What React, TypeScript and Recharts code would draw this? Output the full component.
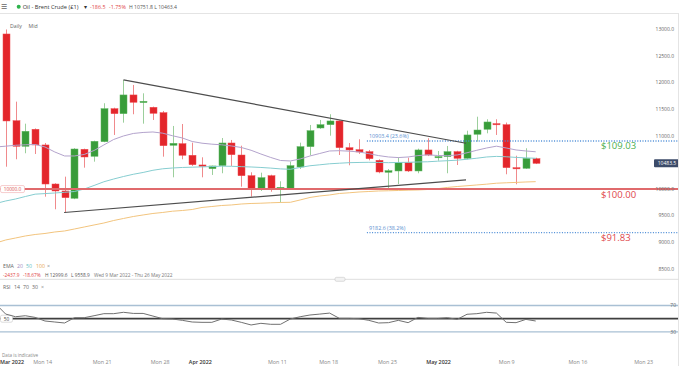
import React from "react";
import { ComposedChart, Bar, Line, XAxis, YAxis, ReferenceLine } from "recharts";

// ---------- data (candle index 0 = Wed 9 Mar 2022) ----------
const opens = [12915, 11285, 10804, 11124, 10829, 10095, 9964, 9827, 10748, 10616, 10891, 11511, 11417, 11769, 11625, 11537, 11436, 10823, 10853, 10635, 10453, 10383, 10440, 10866, 10640, 10251, 10001, 10251, 10007, 10010, 10415, 10797, 11148, 11210, 11280, 10778, 10740, 10703, 10541, 10315, 10340, 10496, 10340, 10735, 10590, 10610, 10703, 10578, 11030, 11124, 11230, 11210, 10402, 10390, 10571];
const highs = [13000, 11643, 11229, 11140, 10866, 10110, 10233, 10770, 10760, 10910, 11613, 11530, 12051, 11957, 11800, 11550, 11468, 11186, 11223, 10872, 10597, 10440, 10960, 10923, 10815, 10315, 10308, 10270, 10146, 10515, 10872, 11205, 11299, 11406, 11290, 10866, 10936, 10735, 10560, 10377, 10597, 10590, 10760, 10955, 10716, 10810, 10720, 11097, 11360, 11312, 11312, 11250, 10627, 10767, 10590];
const lows = [10420, 10560, 10673, 10659, 9857, 9620, 9559, 9810, 10402, 10515, 10880, 11017, 11248, 11406, 11229, 11299, 10609, 10221, 10560, 10434, 10221, 10265, 10297, 10434, 10045, 9857, 9964, 9950, 9744, 9990, 10377, 10635, 11130, 11003, 10640, 10447, 10660, 10540, 10297, 10001, 10095, 10320, 10297, 10620, 10533, 10297, 10452, 10560, 10891, 11048, 11017, 10278, 10090, 10377, 10470];
const closes = [11280, 10804, 11086, 10829, 10095, 9964, 9838, 10753, 10603, 10898, 11511, 11417, 11769, 11631, 11650, 11424, 10815, 10860, 10635, 10458, 10428, 10434, 10866, 10646, 10251, 10001, 10214, 10014, 10033, 10440, 10797, 11097, 11210, 11280, 10778, 10735, 10697, 10571, 10321, 10345, 10496, 10340, 10735, 10640, 10610, 10703, 10578, 11017, 11110, 11261, 11210, 10402, 10383, 10578, 10483.5];

// indicator series start one bar earlier (index -1)
const ema20 = [10791, 10806, 10823, 10832, 10838, 10791, 10697, 10622, 10622, 10650, 10725, 10829, 10932, 10998, 11045, 11064, 11073, 11050, 11002, 10960, 10894, 10862, 10844, 10832, 10810, 10782, 10729, 10659, 10594, 10537, 10528, 10565, 10622, 10669, 10716, 10721, 10712, 10697, 10665, 10629, 10603, 10592, 10603, 10629, 10644, 10631, 10627, 10641, 10682, 10729, 10772, 10806, 10772, 10735, 10716, 10701];
const ema50 = [9729, 9776, 9813, 9860, 9904, 9915, 9926, 9939, 9954, 10001, 10067, 10137, 10189, 10236, 10278, 10312, 10353, 10381, 10396, 10406, 10411, 10417, 10423, 10430, 10428, 10421, 10415, 10406, 10394, 10379, 10372, 10406, 10438, 10456, 10475, 10486, 10496, 10500, 10503, 10500, 10496, 10500, 10503, 10509, 10513, 10524, 10533, 10543, 10560, 10580, 10603, 10614, 10607, 10595, 10586, 10579];
const ema100 = [8986, 9043, 9080, 9118, 9146, 9165, 9193, 9212, 9249, 9287, 9325, 9362, 9409, 9447, 9484, 9513, 9541, 9560, 9584, 9597, 9616, 9654, 9672, 9691, 9701, 9719, 9729, 9734, 9742, 9748, 9751, 9795, 9842, 9870, 9889, 9917, 9930, 9945, 9954, 9964, 9968, 9973, 9979, 9983, 9992, 10007, 10030, 10048, 10062, 10077, 10092, 10110, 10118, 10125, 10133, 10139];
const rsi14 = [72, 57, 53, 54.5, 52, 46.5, 45, 43.5, 51.5, 51.5, 54.5, 57.6, 57.6, 59.7, 58, 58, 54, 50, 49.5, 47.5, 45, 44.5, 44.5, 49.5, 48, 44.5, 40.5, 43, 41.5, 41.5, 49.5, 53, 55.6, 57, 58.5, 50.5, 50.5, 50, 47.5, 43.5, 44, 47.5, 44, 52, 50.5, 50.5, 51.5, 49, 56.7, 57.6, 59.7, 58.5, 44.5, 44, 49, 46.5];

const upperTrend = [{ i: 12, v: 12051 }, { i: 46.9, v: 10861 }];
const lowerTrend = [{ i: 5.95, v: 9559 }, { i: 46.9, v: 10171 }];

const fibStart = 36.8;
const fibLevels = [
  { value: 10903.4, label: "10903.4 (23.6%)" },
  { value: 9182.6, label: "9182.6 (38.2%)" },
];
const supportLevel = 10000;
const priceNotes = [
  { value: 10903.4, text: "$109.03", color: "#4caf50" },
  { value: 10000, text: "$100.00", color: "#e0474c" },
  { value: 9182.6, text: "$91.83", color: "#e0474c" },
];
const lastPrice = 10483.5;

const yTicks = [8500, 9000, 9500, 10000, 11000, 11500, 12000, 12500, 13000];
const xTickPos = [0.64, 3.76, 9.83, 15.74, 19.83, 27.68, 32.9, 38.9, 44.1, 51.05, 58.3, 65.0];
const xTickLabels = ["Mar 2022", "Mon 14", "Mon 21", "Mon 28", "Apr 2022", "Mon 11", "Mon 18", "Mon 25", "May 2022", "Mon 9", "Mon 16", "Mon 23"];

const X_DOMAIN: [number, number] = [-0.582, 68.6];

const rows = ema20.map((_, k) => {
  const i = k - 1;
  const r: any = { i, ema20: ema20[k], ema50: ema50[k], ema100: ema100[k], rsi: rsi14[k] };
  if (i >= 0) {
    r.o = opens[i];
    r.h = highs[i];
    r.l = lows[i];
    r.c = closes[i];
    r.range = [lows[i], highs[i]];
  }
  return r;
});

const FONT = '"Open Sans", Roboto, sans-serif';
const RED = "#e3262b";
const GREEN = "#389c3a";
const BODY_W = 7;

const Candle = (props: any) => {
  const { x, y, width, height } = props;
  const p = props.payload || props;
  if (p == null || p.o == null || x == null) return null;
  const { o, h, l, c } = p;
  const top = Math.min(y, y + height);
  const hgt = Math.abs(height);
  const span = h - l || 1;
  const py = (v: number) => top + ((h - v) / span) * hgt;
  const up = c >= o;
  const bTop = py(Math.max(o, c));
  const bBot = py(Math.min(o, c));
  const cx = Math.round(x + (width || 0) / 2) + 0.5;
  const bh = Math.max(1.2, bBot - bTop);
  return (
    <g>
      <line x1={cx} x2={cx} y1={top} y2={top + hgt} stroke={up ? "#9ccf9c" : "#f08a8c"} strokeWidth={1} />
      <rect x={cx - BODY_W / 2} y={bTop} width={BODY_W} height={bh} fill={up ? GREEN : RED} stroke={up ? "#5db55e" : "#f04b50"} strokeWidth={0.5} />
    </g>
  );
};

const FibLabel = (props: any) => {
  const vb = props.viewBox || {};
  return (
    <text x={vb.x + 2} y={vb.y - 4.5} fontSize={5.4} fill="#5b8fd0" fontFamily={FONT} dominantBaseline="central">
      {props.text}
    </text>
  );
};

const NoteLabel = (props: any) => {
  const vb = props.viewBox || {};
  return (
    <text x={vb.x + vb.width - 78} y={vb.y + 5} fontSize={9.5} fill={props.color} fontFamily={FONT} fontWeight={500} dominantBaseline="central">
      {props.text}
    </text>
  );
};

const LeftTag = (props: any) => {
  const vb = props.viewBox || {};
  return (
    <g>
      <rect x={vb.x + 0.5} y={vb.y - 3.5} width={24} height={7} rx={1.5} fill="#fff" stroke="#f2b9ba" strokeWidth={0.7} />
      <text x={vb.x + 12.5} y={vb.y} fontSize={4.8} fill="#d9534f" textAnchor="middle" dominantBaseline="central" fontFamily={FONT}>
        {props.text}
      </text>
    </g>
  );
};

const PriceTag = (props: any) => {
  const vb = props.viewBox || {};
  const right = vb.x + vb.width + 1;
  return (
    <g>
      <rect x={right - 26} y={vb.y - 4} width={26} height={8} rx={1} fill="#3c4b69" />
      <text x={right - 13} y={vb.y} fontSize={5} fill="#fff" textAnchor="middle" dominantBaseline="central" fontFamily={FONT}>
        {props.text}
      </text>
    </g>
  );
};

const RsiMidTag = (props: any) => {
  const vb = props.viewBox || {};
  return (
    <g>
      <rect x={vb.x + 0.5} y={vb.y - 3.5} width={12} height={7} rx={1.5} fill="#fff" stroke="#cfcfcf" strokeWidth={0.7} />
      <text x={vb.x + 6.5} y={vb.y} fontSize={4.8} fill="#444" textAnchor="middle" dominantBaseline="central" fontFamily={FONT}>
        {props.text}
      </text>
    </g>
  );
};

const XTick = (props: any) => {
  const { x, y, payload } = props;
  const idx = xTickPos.indexOf(payload.value);
  const lab = idx >= 0 ? xTickLabels[idx] : "";
  const isMonth = lab.indexOf("2022") >= 0;
  return (
    <text x={x} y={y} textAnchor="middle" dominantBaseline="central" fontSize={5.4} fill={isMonth ? "#333" : "#888"} fontWeight={isMonth ? 600 : 400} fontFamily={FONT}>
      {lab}
    </text>
  );
};

const T = (p: { x: number; y: number; s?: number; c?: string; w?: number; children: any }) => (
  <text x={p.x} y={p.y} fontSize={p.s || 5.5} fill={p.c || "#555"} fontWeight={p.w || 400} fontFamily={FONT} dominantBaseline="central">
    {p.children}
  </text>
);

export default function App() {
  return (
    <div style={{ position: "absolute", left: 0, top: 0, width: 679, height: 366, overflow: "hidden", background: "#fff", fontFamily: FONT }}>
      {/* main price panel */}
      <div style={{ position: "absolute", left: 0, top: 0 }}>
        <ComposedChart width={679} height={280} data={rows} margin={{ top: 13.5, right: 0, bottom: 0.5, left: 0 }}>
          <XAxis dataKey="i" type="number" domain={X_DOMAIN} allowDataOverflow hide />
          <YAxis
            orientation="right"
            mirror
            width={1}
            domain={[8300, 13300]}
            allowDataOverflow
            ticks={yTicks}
            tickFormatter={(v: number) => v.toFixed(1)}
            axisLine={false}
            tickLine={false}
            tickSize={0}
            tickMargin={5}
            tick={{ fontSize: 5, fill: "#666", fontFamily: FONT }}
          />
          <Line dataKey="ema100" stroke="#f2c47e" strokeWidth={1} dot={false} isAnimationActive={false} />
          <Line dataKey="ema50" stroke="#86cdd0" strokeWidth={1} dot={false} isAnimationActive={false} />
          <Line dataKey="ema20" stroke="#b3a3cc" strokeWidth={1} dot={false} isAnimationActive={false} />
          <ReferenceLine y={supportLevel} stroke="#e06a6c" strokeWidth={2} ifOverflow="visible" label={<LeftTag text="10000.0" />} />
          {fibLevels.map((f) => (
            <ReferenceLine
              key={f.label}
              segment={[{ x: fibStart, y: f.value }, { x: X_DOMAIN[1], y: f.value }]}
              stroke="#4a8bd6"
              strokeWidth={1.3}
              strokeDasharray="1 1.6"
              ifOverflow="visible"
              label={<FibLabel text={f.label} />}
            />
          ))}
          {priceNotes.map((n) => (
            <ReferenceLine key={n.text} y={n.value} stroke="none" label={<NoteLabel text={n.text} color={n.color} />} />
          ))}
          <Line data={upperTrend} dataKey="v" stroke="#4d4d4d" strokeWidth={1.2} dot={false} isAnimationActive={false} />
          <Line data={lowerTrend} dataKey="v" stroke="#4d4d4d" strokeWidth={1.2} dot={false} isAnimationActive={false} />
          <Bar dataKey="range" barSize={7} shape={<Candle />} isAnimationActive={false} />
          <ReferenceLine y={lastPrice} stroke="none" label={<PriceTag text={lastPrice.toFixed(1)} />} />
        </ComposedChart>
      </div>

      {/* RSI panel */}
      <div style={{ position: "absolute", left: 0, top: 279 }}>
        <ComposedChart width={679} height={87} data={rows} margin={{ top: 6.7, right: 0, bottom: 0, left: 0 }}>
          <XAxis
            dataKey="i"
            type="number"
            domain={X_DOMAIN}
            allowDataOverflow
            ticks={xTickPos}
            interval={0}
            height={14.3}
            axisLine={false}
            tickLine={false}
            tickSize={0}
            tickMargin={10.5}
            tick={<XTick />}
          />
          <YAxis
            orientation="right"
            mirror
            width={1}
            domain={[0, 100]}
            ticks={[30, 70]}
            axisLine={false}
            tickLine={false}
            tickSize={0}
            tickMargin={3}
            tick={{ fontSize: 5, fill: "#666", fontFamily: FONT }}
          />
          <ReferenceLine y={70} stroke="#a9c0d4" strokeWidth={1.4} />
          <ReferenceLine y={30} stroke="#a9c0d4" strokeWidth={1.4} />
          <ReferenceLine y={50} stroke="#3f3f3f" strokeWidth={1.8} label={<RsiMidTag text="50" />} />
          <Line dataKey="rsi" stroke="#707070" strokeWidth={1} dot={false} isAnimationActive={false} />
        </ComposedChart>
      </div>

      {/* overlay texts and frame */}
      <svg width={679} height={366} style={{ position: "absolute", left: 0, top: 0, pointerEvents: "none" }}>
        <line x1={0} x2={679} y1={13.5} y2={13.5} stroke="#e4e4e4" strokeWidth={1} />
        <line x1={678.5} x2={678.5} y1={13.5} y2={366} stroke="#e4e4e4" strokeWidth={1} />
        <line x1={0} x2={679} y1={279.3} y2={279.3} stroke="#dedede" strokeWidth={1} />
        <rect x={335} y={277.3} width={10} height={4} rx={1.5} fill="#f2f2f2" stroke="#c8c8c8" strokeWidth={0.6} />

        <T x={1} y={6.7} s={6.5} c="#666">☰</T>
        <circle cx={18.7} cy={6.7} r={2} fill="#2eb34c" />
        <T x={22.7} y={6.7} s={5.7} c="#333">Oil - Brent Crude (£1)</T>
        <T x={84} y={6.7} s={5.5} c="#333">▾</T>
        <T x={90} y={6.7} s={5.4} c="#e0413f">-186.5</T>
        <T x={109} y={6.7} s={5.4} c="#e0413f">-1.75%</T>
        <T x={129} y={6.7} s={5.1} c="#555">H 10751.8 L 10463.4</T>

        <T x={10} y={26.3} s={5.2} c="#666">Daily</T>
        <T x={28.5} y={26.3} s={5.2} c="#666">Mid</T>

        <T x={3} y={266.3} s={5.2} c="#666">EMA</T>
        <T x={17} y={266.3} s={5.2} c="#9d8cc0">20</T>
        <T x={26} y={266.3} s={5.2} c="#5fbfc3">50</T>
        <T x={36} y={266.3} s={5.2} c="#e7a84e">100</T>
        <T x={47} y={266.3} s={5.2} c="#888">×</T>

        <T x={3} y={275} s={4.8} c="#e0413f">-2437.9</T>
        <T x={23} y={275} s={4.8} c="#e0413f">-18.67%</T>
        <T x={45} y={275} s={4.8} c="#555">H 12999.6</T>
        <T x={71} y={275} s={4.8} c="#555">L 9558.9</T>
        <T x={94} y={275} s={4.8} c="#777">Wed 9 Mar 2022 - Thu 26 May 2022</T>

        <T x={3} y={286.7} s={5.2} c="#666">RSI</T>
        <T x={14} y={286.7} s={5.2} c="#666">14</T>
        <T x={23} y={286.7} s={5.2} c="#666">70</T>
        <T x={32} y={286.7} s={5.2} c="#666">30</T>
        <T x={41} y={286.7} s={5.2} c="#888">×</T>

        <T x={2} y={355} s={4.6} c="#888">Data is indicative</T>
      </svg>
    </div>
  );
}
